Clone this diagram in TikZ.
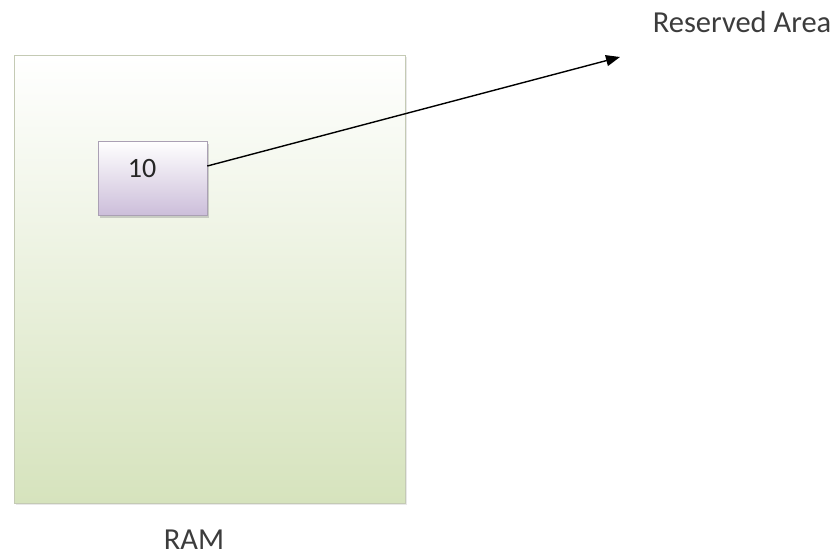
\documentclass[tikz,border=0pt]{standalone}
\usepackage{fontspec}
\setmainfont{Carlito}
\usepackage{tikz}
\usetikzlibrary{arrows.meta, positioning, calc, shadows}

\definecolor{ramgreen}{RGB}{214,227,189}
\definecolor{ramedge}{RGB}{196,202,180}
\definecolor{cellpurple}{RGB}{204,190,218}
\definecolor{celledge}{RGB}{170,160,180}
\definecolor{labelgray}{RGB}{60,60,60}

\begin{document}
\begin{tikzpicture}[x=1pt, y=-1pt,
    ramblock/.style={draw=ramedge, line width=0.8pt, minimum width=391pt, minimum height=448pt,
        top color=white, middle color=ramgreen!55, bottom color=ramgreen,
        drop shadow={opacity=0.18, shadow xshift=1.5pt, shadow yshift=-1.5pt}},
    cellbox/.style={draw=celledge, line width=0.6pt, minimum width=109pt, minimum height=74pt,
        top color=white, middle color=cellpurple!50, bottom color=cellpurple,
        drop shadow={opacity=0.35, shadow xshift=1.5pt, shadow yshift=-2.5pt}},
    bigtext/.style={font=\fontsize{30.5}{36}\selectfont, text=labelgray, inner sep=0pt}
  ]
    % page size
    \useasboundingbox (0,0) rectangle (836,558);

    % RAM block
    \node[ramblock] (ram) at (209.5,279) {};
    \node[bigtext, anchor=base] (ramlabel) at (194,549) {RAM};

    % memory cell holding the value
    \node[cellbox] (cell) at (152.5,178) {};
    \node[bigtext, anchor=base, text=black!85, font=\fontsize{28}{33}\selectfont] (val) at (142,177) {10};

    % reserved area label and arrow
    \node[bigtext, anchor=base] (reserved) at (742,32) {Reserved Area};
    \coordinate (tip) at (620,57);
    \draw[line width=1.4pt, -{Triangle[length=14pt, width=11pt]}]
        ($(cell.east)+(0,-12)$) -- (tip);
\end{tikzpicture}
\end{document}
